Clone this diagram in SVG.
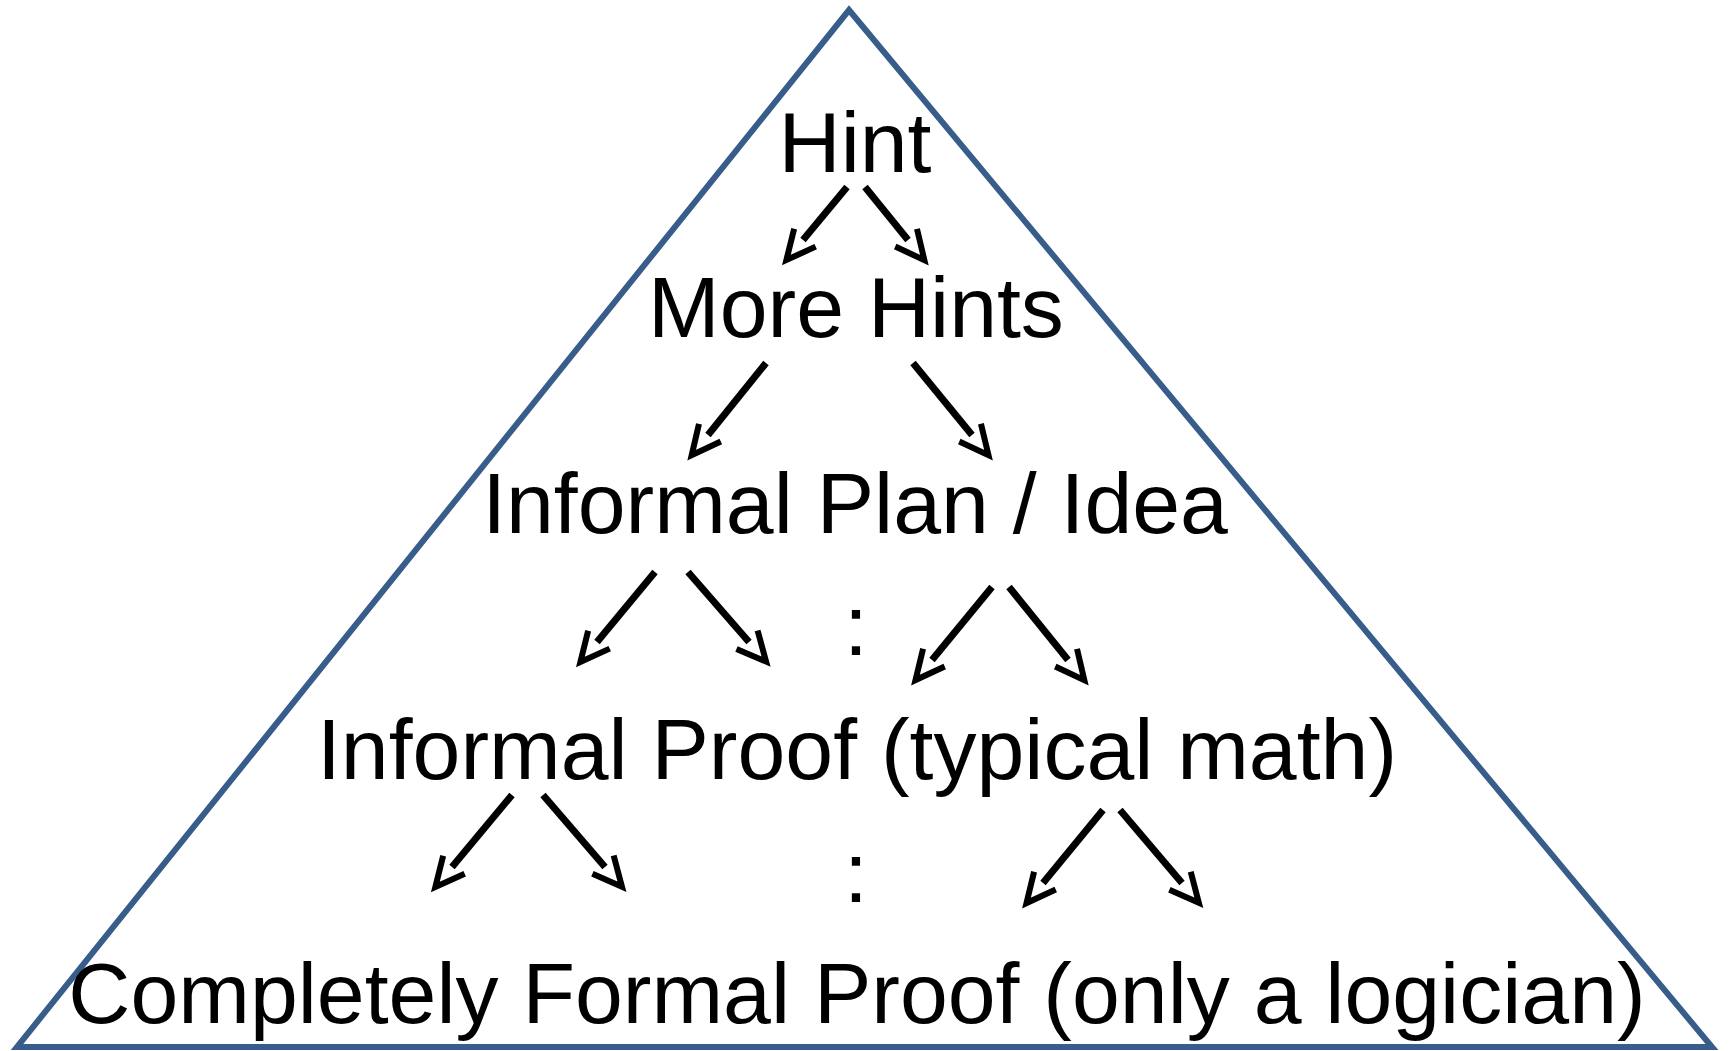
<svg xmlns="http://www.w3.org/2000/svg" width="1729" height="1051" viewBox="0 0 1729 1051">
<style>
.t{font-family:"Liberation Sans",Arial,sans-serif;font-size:86px;fill:#000;text-anchor:middle}
.a{stroke:#000;stroke-width:7;fill:none;marker-end:url(#ah)}
</style>
<defs>
<marker id="ah" markerUnits="userSpaceOnUse" viewBox="-10 -25 50 50" markerWidth="50" markerHeight="50" refX="0" refY="0" orient="auto">
<path d="M-3,-14 L26,0 L-3,14" fill="none" stroke="#000" stroke-width="6" stroke-linejoin="miter" stroke-miterlimit="10"/>
</marker>
</defs>
<rect width="1729" height="1051" fill="#fff"/>
<polygon id="pyramid" points="849,10 1712,1047 17,1047" fill="none" stroke="#385D8A" stroke-width="6"/>
<g id="hint"><text class="t" x="855" y="172">Hint</text></g>
<g id="more-hints"><text class="t" x="856" y="337">More Hints</text></g>
<g id="informal-plan"><text class="t" x="855" y="533">Informal Plan / Idea</text></g>
<g id="colon1"><text class="t" x="856" y="655">:</text></g>
<g id="informal-proof"><text class="t" x="857" y="779">Informal Proof (typical math)</text></g>
<g id="colon2"><text class="t" x="856" y="902">:</text></g>
<g id="formal-proof"><text class="t" x="857" y="1023">Completely Formal Proof (only a logician)</text></g>
<g id="connectors">
<line class="a" x1="847" y1="187" x2="803" y2="240"/>
<line class="a" x1="865" y1="187" x2="908" y2="240"/>
<line class="a" x1="766" y1="363" x2="708" y2="435"/>
<line class="a" x1="913" y1="363" x2="972" y2="435"/>
<line class="a" x1="655" y1="572" x2="597" y2="642"/>
<line class="a" x1="688" y1="572" x2="749" y2="642"/>
<line class="a" x1="992" y1="587" x2="932" y2="660"/>
<line class="a" x1="1009" y1="587" x2="1068" y2="660"/>
<line class="a" x1="512" y1="795" x2="452" y2="867"/>
<line class="a" x1="543" y1="795" x2="605" y2="867"/>
<line class="a" x1="1103" y1="810" x2="1043" y2="883"/>
<line class="a" x1="1120" y1="810" x2="1182" y2="883"/>
</g>
</svg>
